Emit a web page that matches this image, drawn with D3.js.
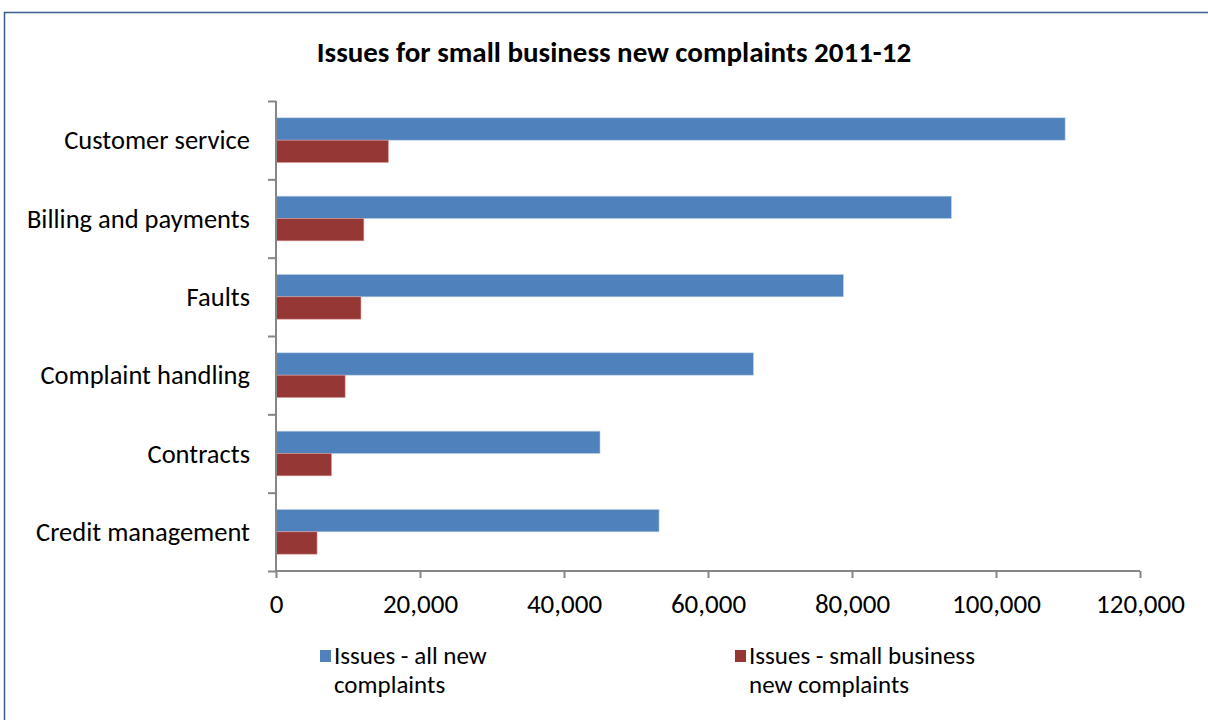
<!DOCTYPE html>
<html><head><meta charset="utf-8">
<script src="https://cdn.jsdelivr.net/npm/d3@7"></script>
<style>body{margin:0;background:#fff}svg{display:block}text{font-family:Carlito,Lato,"Open Sans",sans-serif;fill:#000}</style>
</head><body><svg id="c" width="1208" height="720"></svg>
<script>
const categories = ["Customer service","Billing and payments","Faults","Complaint handling","Contracts","Credit management"];
const seriesNames = ["Issues - all new complaints","Issues - small business new complaints"];
const allNew = [109600, 93800, 78800, 66300, 45000, 53200];
const smallBiz = [15600, 12200, 11800, 9600, 7700, 5700];
const xTicks = [0,20000,40000,60000,80000,100000,120000];
const colors = ["#4f81bd","#953735"];
const title = "Issues for small business new complaints 2011-12";

const svg = d3.select("#c");
svg.append("rect").attr("x",4.5).attr("y",12.5).attr("width",1220).attr("height",720)
  .attr("fill","none").attr("stroke","#385d8a").attr("stroke-width",1.5);

const x = d3.scaleLinear().domain([0,120000]).range([276,1140]);
const y0 = d3.scaleBand().domain(categories).range([101,571]).paddingInner(0.43).paddingOuter(0.215);
const y1 = d3.scaleBand().domain(seriesNames).range([0,y0.bandwidth()]);

svg.append("text").attr("x",614).attr("y",62).attr("text-anchor","middle")
  .attr("font-weight","bold").attr("font-size",29).text(title);

const rows = categories.map((c,i)=>({c, v:[allNew[i],smallBiz[i]]}));
const g = svg.append("g");
rows.forEach(r=>{
  r.v.forEach((v,j)=>{
    g.append("rect").attr("x",x(0)).attr("y",y0(r.c)+y1(seriesNames[j]))
     .attr("width",x(v)-x(0)).attr("height",y1.bandwidth())
     .attr("fill",colors[j]).attr("stroke", j===0?"#b9cde5":"#d99795").attr("stroke-width",0.6);
  });
});

const yAxis = d3.axisLeft(d3.scalePoint().domain(d3.range(7)).range([101,571])).tickSize(8).tickFormat("");
const ya = svg.append("g").attr("transform",`translate(276,0)`).call(yAxis);
ya.selectAll("path,line").attr("stroke","#868686").attr("stroke-width",2);
ya.select("path").attr("d","M0,101V571");
categories.forEach(c=>{
  svg.append("text").attr("x",250).attr("y",y0(c)+y0.bandwidth()/2+9).attr("text-anchor","end")
    .attr("font-size",26.5).text(c);
});
const xAxis = d3.axisBottom(x).tickValues(xTicks).tickSize(7).tickPadding(16).tickFormat(d3.format(","));
const xa = svg.append("g").attr("transform","translate(0,571)").call(xAxis);
xa.select("path").attr("d","M276,0H1140");
xa.selectAll("path,line").attr("stroke","#868686").attr("stroke-width",2);
xa.selectAll("text").attr("font-size",27).attr("font-family","Carlito,Lato,'Open Sans',sans-serif").attr("fill","#000");

const leg = [{x:320, lines:["Issues - all new","complaints"]},{x:735, lines:["Issues - small business","new complaints"]}];
leg.forEach((l,i)=>{
  svg.append("rect").attr("x",l.x).attr("y",650).attr("width",11).attr("height",12).attr("fill",colors[i]);
  l.lines.forEach((t,k)=>{
    svg.append("text").attr("x",l.x+14).attr("y",664+k*29).attr("font-size",25).text(t);
  });
});
</script></body></html>
